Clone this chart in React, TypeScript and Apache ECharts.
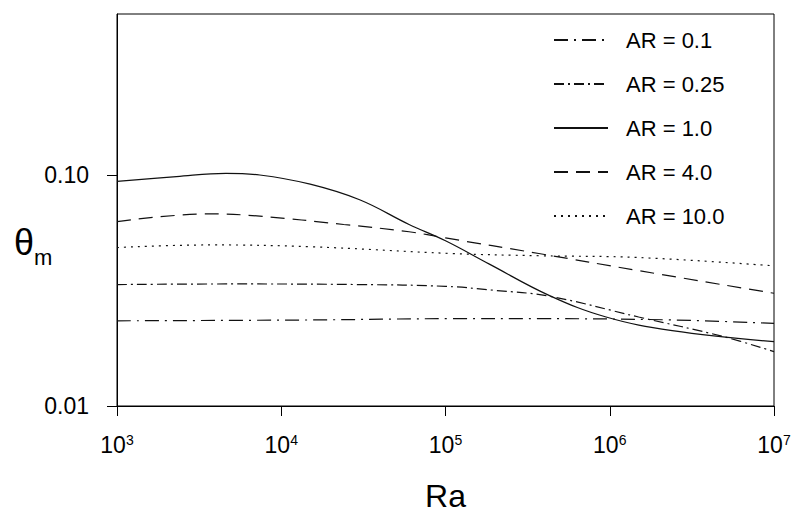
import React, { useEffect, useRef } from 'react';
import * as echarts from 'echarts';

const seriesNames = ['AR = 0.1', 'AR = 0.25', 'AR = 1.0', 'AR = 4.0', 'AR = 10.0'];

const raAR01 = [1e3, 1.5e4, 1.1e5, 3.7e5, 2.4e6, 1e7];
const thAR01 = [0.0234, 0.0236, 0.0239, 0.0239, 0.0236, 0.0228];

const raAR025 = [1e3, 5e3, 3e4, 1e5, 2e5, 4.3e5, 1.5e6, 4.9e6, 1e7];
const thAR025 = [0.0336, 0.0338, 0.0336, 0.033, 0.0317, 0.0299, 0.0243, 0.02, 0.0172];

const raAR1 = [1e3, 2.3e3, 4.6e3, 7.4e3, 1.5e4, 3e4, 6e4, 1e5, 1.85e5, 4.3e5, 9.5e5, 2.4e6, 1e7];
const thAR1 = [0.094, 0.0987, 0.102, 0.1003, 0.0915, 0.0783, 0.0612, 0.052, 0.0412, 0.0301, 0.0243, 0.0212, 0.019];

const raAR4 = [1e3, 3.7e3, 7.4e3, 2.4e4, 6e4, 1e5, 3.7e5, 1.5e6, 1e7];
const thAR4 = [0.063, 0.068, 0.0665, 0.0612, 0.0569, 0.0535, 0.0458, 0.0386, 0.0308];

const raAR10 = [1e3, 3.7e3, 1.5e4, 1.1e5, 3.7e5, 1.5e6, 1e7];
const thAR10 = [0.0486, 0.0499, 0.049, 0.0458, 0.0448, 0.044, 0.0405];

const xTickExponents = ['3', '4', '5', '6', '7'];
const yTickLabels = ['0.01', '0.10'];

const FONT = '"Liberation Sans", Arial, sans-serif';

const pairs = (xs: number[], ys: number[]) => xs.map((x, i) => [x, ys[i]]);

export default function App() {
  const ref = useRef<HTMLDivElement>(null);
  useEffect(() => {
    if (!ref.current) return;
    const chart = echarts.init(ref.current, undefined, { renderer: 'svg' });
    const dashes: any[] = [[14, 6, 2, 6], [10, 4, 2, 4], 'solid', [14, 8], [2, 5]];
    const dataSets = [
      pairs(raAR01, thAR01),
      pairs(raAR025, thAR025),
      pairs(raAR1, thAR1),
      pairs(raAR4, thAR4),
      pairs(raAR10, thAR10),
    ];
    chart.setOption({
      animation: false,
      backgroundColor: '#fff',
      textStyle: { fontFamily: FONT },
      grid: {
        left: 117,
        right: 24,
        top: 14,
        bottom: 107,
        show: true,
        borderColor: '#000',
        borderWidth: 1,
        backgroundColor: 'transparent',
      },
      legend: {
        orient: 'vertical',
        left: 553,
        top: 28,
        padding: 0,
        itemWidth: 54,
        itemHeight: 14,
        itemGap: 20,
        data: seriesNames,
        itemStyle: { opacity: 0, color: 'transparent', borderColor: 'transparent', borderWidth: 0 },
        textStyle: {
          fontFamily: FONT,
          fontSize: 22,
          color: '#000',
          lineHeight: 24,
          padding: [0, 0, 0, 13],
        },
      },
      xAxis: {
        type: 'log',
        logBase: 10,
        min: 1e3,
        max: 1e7,
        name: 'Ra',
        nameLocation: 'middle',
        nameGap: 74,
        nameTextStyle: { fontFamily: FONT, fontSize: 32, color: '#000' },
        axisLine: { show: true, lineStyle: { color: '#000', width: 1 } },
        axisTick: { show: true, inside: false, length: 10, lineStyle: { color: '#000' } },
        minorTick: { show: false },
        splitLine: { show: false },
        axisLabel: {
          margin: 27,
          color: '#000',
          formatter: (v: number) => {
            const e = Math.round(Math.log10(v));
            const s = xTickExponents.find((t) => Number(t) === e);
            return s ? `{b|10}{s|${s}}` : '';
          },
          rich: {
            b: { fontFamily: FONT, fontSize: 23, color: '#000' },
            s: { fontFamily: FONT, fontSize: 14, color: '#000', verticalAlign: 'top' },
          },
        },
      },
      yAxis: {
        type: 'log',
        logBase: 10,
        min: 0.01,
        max: 0.5,
        axisLine: { show: true, lineStyle: { color: '#000', width: 1 } },
        axisTick: { show: true, inside: false, length: 10, lineStyle: { color: '#000' }, customValues: [0.01, 0.1] },
        minorTick: { show: false },
        splitLine: { show: false },
        axisLabel: {
          margin: 28,
          color: '#000',
          fontFamily: FONT,
          fontSize: 23,
          customValues: [0.01, 0.1],
          formatter: (v: number) => {
            const l = Math.log10(v);
            if (Math.abs(l + 2) < 1e-6) return yTickLabels[0];
            if (Math.abs(l + 1) < 1e-6) return yTickLabels[1];
            return '';
          },
        },
      },
      graphic: [
        {
          type: 'text',
          left: 14,
          top: 224,
          style: {
            text: '{a|θ}{b|m}',
            rich: {
              a: { fontFamily: FONT, fontSize: 36, fill: '#000' },
              b: { fontFamily: FONT, fontSize: 22, fill: '#000', verticalAlign: 'bottom', padding: [0, 0, -8, 0] },
            },
          },
        },
      ],
      series: seriesNames.map((name, i) => ({
        name,
        type: 'line',
        data: dataSets[i],
        smooth: 0.4,
        symbol: 'none',
        showSymbol: false,
        lineStyle: { color: '#111', width: 1.2, type: dashes[i] },
        itemStyle: { color: '#111' },
      })),
    });
    return () => chart.dispose();
  }, []);
  return (
    <div
      ref={ref}
      style={{ position: 'fixed', left: 0, top: 0, width: 798, height: 517, background: '#fff' }}
    />
  );
}
